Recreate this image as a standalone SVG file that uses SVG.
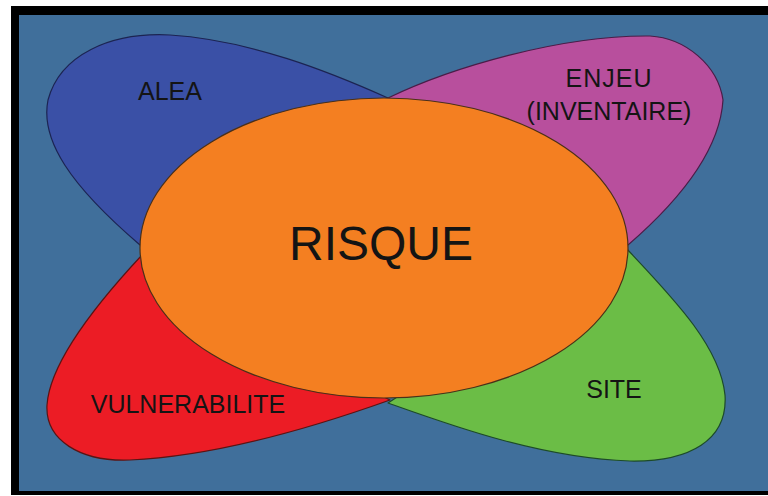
<svg xmlns="http://www.w3.org/2000/svg" width="768" height="496" viewBox="0 0 768 496">
<style>
.petal{stroke-width:1.2;stroke-linejoin:round}
.lbl{font-family:"Liberation Sans",Arial,sans-serif;font-size:25px;fill:#141414;text-anchor:middle}
</style>
<rect x="0" y="0" width="768" height="496" fill="#ffffff"/>
<rect x="11" y="6" width="757" height="489" fill="#000000"/>
<rect x="19" y="15" width="749" height="476" fill="#406f9b"/>
<g id="alea">
<path class="petal" d="M 388,98 C 330,72 250,40 170,35 C 110,32 60,55 48,100 C 40,140 70,185 140,245 L 250,200 Z" fill="#3a50a6" stroke="#1c2452"/>
<text class="lbl" x="170" y="100">ALEA</text>
</g>
<g id="enjeu">
<path class="petal" d="M 388,98 C 450,68 560,35 650,36 C 685,38 718,65 723,100 C 720,150 680,200 628,245 L 500,200 Z" fill="#b84f9d" stroke="#4a1d48"/>
<text class="lbl" x="609" y="87" letter-spacing="1">ENJEU</text>
<text class="lbl" x="609" y="120">(INVENTAIRE)</text>
</g>
<g id="vulnerabilite">
<path class="petal" d="M 142,255 C 100,300 50,360 47,405 C 45,440 80,462 130,460 C 220,456 320,425 390,400 L 250,330 Z" fill="#ec1c25" stroke="#5a1414"/>
<text class="lbl" x="188" y="413">VULNERABILITE</text>
</g>
<g id="site">
<path class="petal" d="M 626,248 C 670,295 720,345 725,395 C 728,440 690,462 630,461 C 540,458 450,425 388,403 L 500,330 Z" fill="#6bbd46" stroke="#1d4a2a"/>
<text class="lbl" x="614" y="398">SITE</text>
</g>
<g id="risque">
<ellipse cx="384" cy="248" rx="244" ry="150" fill="#f47f21" stroke="#4a3018" stroke-width="1.2"/>
<text x="381" y="260" font-family="&quot;Liberation Sans&quot;,Arial,sans-serif" font-size="48" fill="#141414" text-anchor="middle">RISQUE</text>
</g>
<g id="connectors"/>
</svg>
